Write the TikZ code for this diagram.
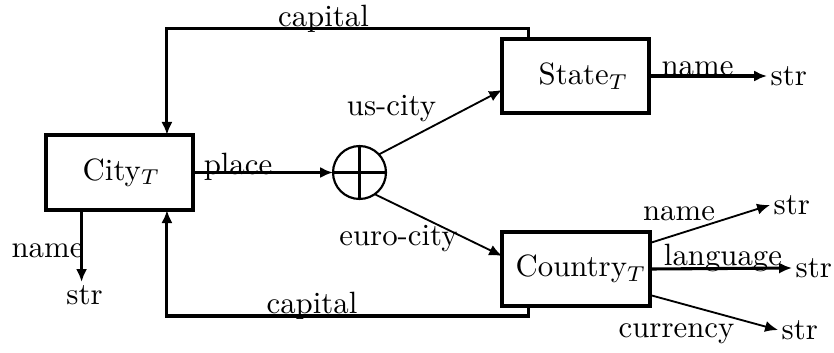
\documentclass[tikz,border=0pt]{standalone}
\usetikzlibrary{arrows.meta,calc}
\begin{document}
\begin{tikzpicture}[x=0.3247pt,y=-0.3247pt,
  box/.style={draw,line width=1.2pt,inner sep=0pt,outer sep=0pt},
  heavy/.style={line width=1pt,-{Latex[length=4.2pt,width=3.6pt]}},
  light/.style={line width=0.6pt,-{Latex[length=4.2pt,width=3.6pt]}},
  lbl/.style={inner sep=0pt,anchor=base},
  tgt/.style={inner sep=1pt}]
\useasboundingbox (0,0) rectangle (834,352);
% boxes
\node[box,minimum width=47.7pt,minimum height=24.4pt] (city) at (119.5,172.5) {};
\node[inner sep=0pt] (citylbl) at (121.5,172.5) {City$_T$};
\node[box,minimum width=47.7pt,minimum height=24.0pt] (state) at (575.5,76) {};
\node[inner sep=0pt] (statelbl) at (583.5,76) {State$_T$};
\node[box,minimum width=48.0pt,minimum height=24.0pt] (country) at (576,269) {};
\node[inner sep=0pt] (countrylbl) at (581,269) {Country$_T$};
% oplus
\node[draw,circle,line width=0.7pt,minimum size=17.2pt,inner sep=0pt,outer sep=0pt] (oplus) at (359.5,172.5) {};
\draw[line width=1pt] (oplus.north) -- (oplus.south);
\draw[line width=1pt] (oplus.west) -- (oplus.east);
% place
\draw[heavy] (city.east) -- (oplus.west);
\node[lbl] (placelbl) at (238,174) {place};
% us-city / euro-city
\draw[light] (oplus.43) -- ($(state.west)+(0,14)$);
\node[lbl] (uslbl) at (391.5,115) {us-city};
\draw[light] (oplus.-55) -- ($(country.west)+(0,-13)$);
\node[lbl] (eurolbl) at (398.5,245) {euro-city};
% capital top
\coordinate (ct1) at ($(state.north west)+(26,0)$);
\coordinate (ct2) at ($(city.north east)+(-26,0)$);
\draw[heavy] (ct1) -- ++(0,-11) -| (ct2);
\node[lbl] (cap1) at (323.5,27) {capital};
% capital bottom
\coordinate (cb1) at ($(country.south west)+(26,0)$);
\coordinate (cb2) at ($(city.south east)+(-26,0)$);
\draw[heavy] (cb1) -- ++(0,10) -| (cb2);
\node[lbl] (cap2) at (312,313) {capital};
% state name
\node[tgt,anchor=west] (s1) at (767,76) {str};
\draw[heavy] (state.east) -- (s1.west);
\node[lbl] (sn) at (697.5,75) {name};
% country attributes
\node[tgt,anchor=west] (s2) at (770,205) {str};
\draw[light] ($(country.east)+(0,-26)$) -- (s2.west);
\node[lbl] (cn) at (679,220) {name};
\node[tgt,anchor=west] (s3) at (792,268) {str};
\draw[heavy] (country.east) -- (s3.west);
\node[lbl] (cl) at (723,265) {language};
\node[tgt,anchor=west] (s4) at (778,330) {str};
\draw[light] ($(country.east)+(0,26)$) -- (s4.west);
\node[lbl] (cc) at (676.5,337) {currency};
% city name
\coordinate (cn0) at ($(city.south west)+(35.5,0)$);
\node[tgt,anchor=north] (s5) at (84.5,282) {str};
\draw[heavy] (cn0) -- (cn0 |- s5.north);
\node[lbl] (cityn) at (47.5,257) {name};
\end{tikzpicture}
\end{document}
